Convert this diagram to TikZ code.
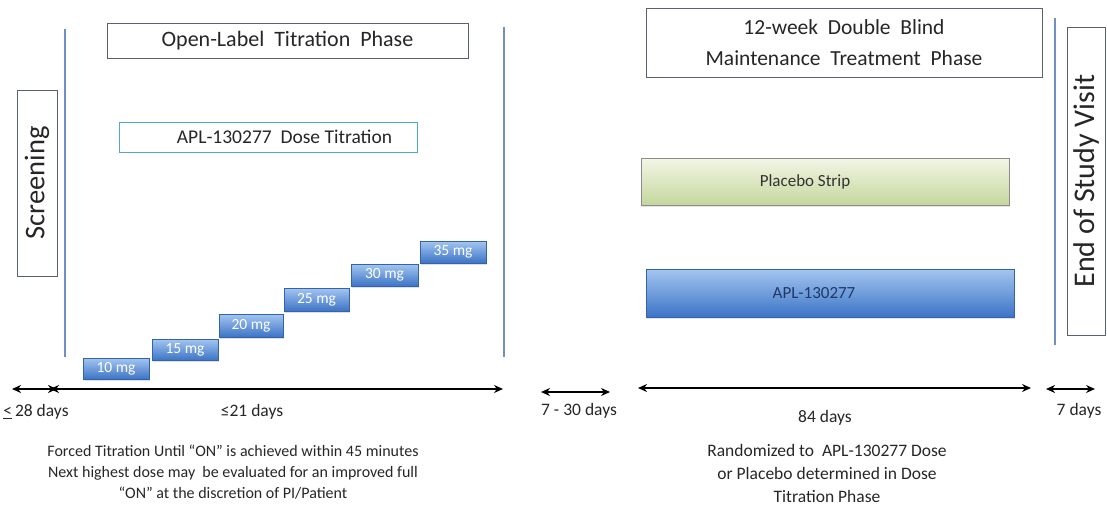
\documentclass[tikz,border=0pt]{standalone}
\usepackage{fontspec}
\setmainfont{Carlito}
\usetikzlibrary{arrows.meta,shadows}
\definecolor{lineblue}{HTML}{7090C4}
\definecolor{stepTop}{HTML}{A4C6F0}
\definecolor{stepBot}{HTML}{3C74C6}
\definecolor{greenTop}{HTML}{F2F6E6}
\definecolor{greenBot}{HTML}{C4D79C}
\definecolor{tealline}{HTML}{4BACC6}
\definecolor{navytext}{HTML}{1F3A6A}
\definecolor{boxline}{HTML}{5A6270}
\begin{document}
\begin{tikzpicture}[x=1pt,y=-1pt,
 phasebox/.style={draw=boxline, line width=0.8pt, fill=white, inner sep=0pt, align=center, text=black!85,
   drop shadow={shadow xshift=1.2pt, shadow yshift=-1.2pt, opacity=0.18}},
 vline/.style={draw=lineblue, line width=2.2pt},
 dosebox/.style={inner sep=0pt, top color=stepTop, bottom color=stepBot, draw=stepBot!85!black, line width=0.4pt,
   text=white, font=\fontsize{15.5}{17}\selectfont, minimum height=21pt, minimum width=66pt,
   drop shadow={shadow xshift=1pt, shadow yshift=-1.5pt, opacity=0.25}},
 barbox/.style={inner sep=0pt, line width=0.5pt, font=\fontsize{17}{20}\selectfont,
   drop shadow={shadow xshift=1pt, shadow yshift=-2pt, opacity=0.22}},
 span/.style={line width=2pt, {Stealth[length=9pt,width=8pt]}-{Stealth[length=9pt,width=8pt]}},
 lbl/.style={font=\fontsize{17.5}{20}\selectfont, text=black!85, inner sep=0pt},
 note/.style={font=\fontsize{16}{21}\selectfont, align=center, text=black!85, inner sep=0pt}]
\useasboundingbox (0,0) rectangle (1107,508);

% phase boxes
\node[phasebox, minimum width=361pt, minimum height=35pt, font=\fontsize{22}{24}\selectfont] (open) at (287.5,40.5) {Open-Label\ \ Titration\ \ Phase};
\node[phasebox, draw=tealline, minimum width=298pt, minimum height=30pt, font=\fontsize{19.5}{22}\selectfont] (dtit) at (268,137) {\hspace*{33pt}APL-130277\ \ Dose Titration};
\node[phasebox, minimum width=396pt, minimum height=69pt, font=\fontsize{21.5}{31}\selectfont] (dbl) at (844,42.5) {12-week\ \ Double\ \ Blind\\Maintenance\ \ Treatment\ \ Phase};
\node[phasebox, minimum width=40pt, minimum height=186pt] (scr) at (37,183) {};
\node[rotate=90, font=\fontsize{28.5}{30}\selectfont, text=black!85] at (scr.center) {Screening};
\node[phasebox, minimum width=38pt, minimum height=308pt] (eos) at (1086,181) {};
\node[rotate=90, font=\fontsize{30}{32}\selectfont, text=black!85] at (eos.center) {End\ of\ Study\ Visit};

% vertical separators
\coordinate (l1t) at (65,29);   \coordinate (l1b) at (65,357);
\coordinate (l2t) at (504,27);  \coordinate (l2b) at (504,357);
\coordinate (l3t) at (1055,18); \coordinate (l3b) at (1055,345);
\draw[vline] (l1t) -- (l1b);
\draw[vline] (l2t) -- (l2b);
\draw[vline] (l3t) -- (l3b);

% dose steps
\node[dosebox] (d10) at (116,368.5) {10 mg};
\node[dosebox] (d15) at (185,349.5) {15 mg};
\node[dosebox, minimum width=64pt, minimum height=23pt] (d20) at (251,325.5) {20 mg};
\node[dosebox, minimum width=65pt, minimum height=23pt] (d25) at (316.5,299.5) {25 mg};
\node[dosebox, minimum width=67pt, minimum height=22pt] (d30) at (384.5,275) {30 mg};
\node[dosebox, minimum width=66pt, minimum height=22pt] (d35) at (453,252) {35 mg};

% treatment bars
\node[barbox, top color=greenTop, bottom color=greenBot, draw=black!45, text=black!80,
  minimum width=368pt, minimum height=47pt] (plc) at (825,181.5) {\hspace*{-40pt}Placebo Strip};
\node[barbox, top color=stepTop, bottom color=stepBot, draw=stepBot!85!black, text=navytext,
  minimum width=368pt, minimum height=48pt] (apl) at (830,293) {\hspace*{-32pt}APL-130277};

% duration arrows
\coordinate (a28l) at (12,389);   \coordinate (a28r) at (57,389);
\coordinate (a21l) at (50,389);   \coordinate (a21r) at (503,389);
\coordinate (a30l) at (541,392);  \coordinate (a30r) at (610,392);
\coordinate (a84l) at (638,388);  \coordinate (a84r) at (1031,388);
\coordinate (a7l) at (1046,389);  \coordinate (a7r) at (1095,389);
\draw[span] (a28l) -- (a28r);
\draw[span] (a21l) -- (a21r);
\draw[span] (a30l) -- (a30r);
\draw[span] (a84l) -- (a84r);
\draw[span] (a7l) -- (a7r);

% duration labels
\node[lbl] (t28) at (36,412) {\underline{<}\,28 days};
\node[lbl] (t21) at (252,412) {≤21 days};
\node[lbl] (t30) at (579,411) {7 - 30 days};
\node[lbl] (t84) at (825,418) {84 days};
\node[lbl] (t7) at (1079,411) {7 days};

% notes
\node[note] (nl) at (233,472) {Forced Titration Until “ON” is achieved within 45 minutes\\Next highest dose may\ \ be evaluated for an improved full\\“ON” at the discretion of PI/Patient};
\node[note, font=\fontsize{17.5}{23}\selectfont] (nr) at (827,473) {Randomized to\ \ APL-130277 Dose\\or Placebo determined in Dose\\Titration Phase};
\end{tikzpicture}
\end{document}
